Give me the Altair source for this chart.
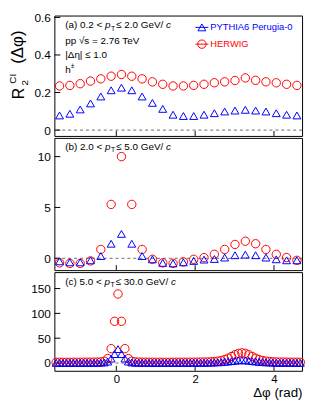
import math
import altair as alt
import pandas as pd

# ---------------- data ----------------
NB_ab = 24
NB_c = 72
x_ab = [-math.pi / 2 + (i + 0.5) * 2 * math.pi / NB_ab for i in range(NB_ab)]
x_c = [-math.pi / 2 + (i + 0.5) * 2 * math.pi / NB_c for i in range(NB_c)]

pythia_a = [0.078, 0.087, 0.110, 0.142, 0.179, 0.212, 0.226, 0.212, 0.179, 0.145, 0.113, 0.082,
            0.075, 0.075, 0.082, 0.090, 0.099, 0.104, 0.108, 0.104, 0.099, 0.090, 0.082, 0.078]
herwig_a = [0.235, 0.238, 0.247, 0.261, 0.273, 0.287, 0.296, 0.287, 0.273, 0.257, 0.244, 0.235,
            0.235, 0.238, 0.244, 0.252, 0.257, 0.264, 0.278, 0.265, 0.257, 0.252, 0.244, 0.238]

pythia_b = [-0.30, -0.40, -0.40, -0.20, 0.22, 1.43, 2.40, 1.43, 0.22, -0.10, -0.45, -0.50,
            -0.40, -0.26, -0.13, -0.07, 0.07, 0.30, 0.36, 0.30, 0.07, -0.10, -0.20, -0.20]
herwig_b = [-0.45, -0.50, -0.50, -0.26, 0.87, 5.30, 10.0, 5.30, 0.87, -0.10, -0.45, -0.50,
            -0.35, -0.10, 0.07, 0.39, 0.87, 1.36, 1.68, 1.43, 0.87, 0.39, 0.07, -0.20]

herwig_c = [1.5, 1.6, 1.5, 1.4, 1.5, 1.6, 1.5, 1.5, 1.6, 1.7, 1.7, 1.8, 2.0,
            2.3, 3.5, 9.0, 29.0, 84.0, 139.0, 84.0, 29.0, 9.0, 3.5, 2.3,
            2.0, 1.8, 1.7, 1.6, 1.6, 1.5, 1.5, 1.5, 1.5, 1.5, 1.5, 1.5, 1.6, 1.6, 1.6, 1.7, 1.7, 1.8, 1.9, 2.0,
            2.2, 2.5, 3.0, 3.8, 5.0, 7.0, 9.8, 13.2, 16.8, 19.5, 20.5, 19.5, 16.8, 13.2, 9.8, 7.0, 5.0, 3.8, 3.0, 2.5, 2.2,
            2.0, 1.9, 1.8, 1.7, 1.6, 1.6, 1.5]
pythia_c = [0.3, 0.4, 0.3, 0.3, 0.4, 0.3, 0.3, 0.4, 0.4, 0.4, 0.5, 0.5, 0.6, 0.8,
            1.2, 3.0, 9.0, 18.0, 28.0, 18.0, 9.0, 3.0, 1.2,
            0.8, 0.6, 0.5, 0.4, 0.4, 0.3, 0.3, 0.3, 0.3, 0.3, 0.3, 0.3, 0.3, 0.3, 0.4, 0.4, 0.4, 0.5, 0.5, 0.6, 0.7, 0.8, 0.9, 1.1, 1.4,
            1.8, 2.4, 3.1, 3.9, 4.7, 5.3, 5.6, 5.3, 4.7, 3.9, 3.1, 2.4, 1.8,
            1.4, 1.1, 0.9, 0.7, 0.6, 0.5, 0.5, 0.4, 0.4, 0.3, 0.3]

yticks_a = [0, 0.2, 0.4, 0.6]
yticks_b = [0, 5, 10]
yticks_c = [0, 50, 100, 150]
xticks = [0, 2, 4]

ydom_a = [-0.031, 0.610]
ydom_b = [-1.165, 11.84]
ydom_c = [-15.6, 183.1]
xdom = [-math.pi / 2, 3 * math.pi / 2]

# ---------------- style ----------------
W = 251
H_A, H_B, H_C = 122, 134, 100
FONT = "Liberation Sans"
RED = "#ff0000"
BLUE = "#0000ff"
ANN = 10

CW = {"(": 333, ")": 333, " ": 278, ".": 278, "<": 584, "\u2264": 549, "/": 278, "G": 778, "e": 556,
      "V": 667, "a": 556, "b": 556, "c": 500, "p": 556, "T": 611}


def tw(s, size):
    return sum(CW.get(ch, 556) for ch in s) * size / 1000.0


def pt_label(tag, lo, hi, x0, y0):
    pieces = []
    s1 = f"({tag}) {lo} < "
    pieces.append((s1, x0, y0, ANN, "normal"))
    x = x0 + tw(s1, ANN)
    pieces.append(("p", x, y0, ANN, "italic"))
    x += tw("p", ANN)
    pieces.append(("T", x + 0.5, y0 + 3.5, 7, "normal"))
    x += tw("T", 7) + 1.5
    s2 = f" \u2264 {hi} GeV/"
    pieces.append((s2, x, y0, ANN, "normal"))
    x += tw(s2, ANN)
    pieces.append(("c", x, y0, ANN, "italic"))
    return pieces


def text_layers(pieces, color="#000", angle=0):
    layers = []
    for (t, x, y, size, style) in pieces:
        layers.append(
            alt.Chart(pd.DataFrame({"t": [t]})).mark_text(
                text=t, align="left" if angle == 0 else "center", baseline="middle",
                font=FONT, fontSize=size, fontStyle=style, color=color, angle=angle
            ).encode(x=alt.value(x), y=alt.value(y))
        )
    return layers


def panel(xs, herwig, pythia, ydom, yticks, H, fmt, texts, xaxis, extra=()):
    df = pd.DataFrame({"x": xs, "herwig": herwig, "pythia": pythia})
    xsc = alt.Scale(domain=xdom, nice=False, zero=False)
    ysc = alt.Scale(domain=ydom, nice=False, zero=False)
    yaxis = alt.Axis(values=yticks, ticks=False, domain=False, grid=False, labelFont=FONT,
                     labelFontSize=12, labelPadding=4, title=None, format=fmt, labelColor="#000")

    def X(f):
        return alt.X(f, type="quantitative", scale=xsc, axis=xaxis)

    def Y(f):
        return alt.Y(f, type="quantitative", scale=ysc, axis=yaxis)

    zero = alt.Chart(pd.DataFrame({"v": [0]})).mark_rule(
        color="#444", strokeDash=[3, 3], strokeWidth=0.8).encode(y=Y("v"))
    ytk = alt.Chart(pd.DataFrame({"v": yticks})).mark_rule(color="#000", strokeWidth=1).encode(
        y=Y("v"), x=alt.value(0), x2=alt.value(6))
    xtk = alt.Chart(pd.DataFrame({"v": xticks})).mark_rule(color="#000", strokeWidth=1).encode(
        x=X("v"), y=alt.value(H), y2=alt.value(H - 5))
    her = alt.Chart(df).mark_point(shape="circle", filled=False, color=RED, size=72,
                                   strokeWidth=1, opacity=1).encode(x=X("x"), y=Y("herwig"))
    pyt = alt.Chart(df).mark_point(shape="triangle-up", filled=False, color=BLUE, size=64,
                                   strokeWidth=1, opacity=1).encode(x=X("x"), y=Y("pythia"))
    layers = [zero, ytk, xtk, her, pyt] + list(texts) + list(extra)
    return alt.layer(*layers).properties(width=W, height=H)


texts_a = text_layers(pt_label("a", "0.2", "2.0", 11, 10))
texts_a += text_layers([("pp \u221As = 2.76 TeV", 11, 26, ANN, "normal"),
                        ("|\u0394\u03b7| \u2264 1.0", 11, 40, ANN, "normal"),
                        ("h", 11, 55, ANN, "normal"),
                        ("\u00b1", 16.6, 51, 7, "normal")])

one = pd.DataFrame({"k": [0]})
LX = 143
legend = [
    alt.Chart(one).mark_rule(color=BLUE, strokeWidth=1).encode(x=alt.value(LX), x2=alt.value(LX + 13), y=alt.value(12)),
    alt.Chart(one).mark_point(shape="triangle-up", filled=False, color=BLUE, size=64, strokeWidth=1, opacity=1)
    .encode(x=alt.value(LX + 6.5), y=alt.value(12)),
    alt.Chart(one).mark_rule(color=RED, strokeWidth=1).encode(x=alt.value(LX), x2=alt.value(LX + 13), y=alt.value(29)),
    alt.Chart(one).mark_point(shape="circle", filled=False, color=RED, size=72, strokeWidth=1, opacity=1)
    .encode(x=alt.value(LX + 6.5), y=alt.value(29)),
]
legend += text_layers([("PYTHIA6 Perugia-0", LX + 15, 12, 9.5, "normal")], color=BLUE)
legend += text_layers([("HERWIG", LX + 15, 29, 9.5, "normal")], color=RED)

ytitle = text_layers([("R", -36, 79, 16, "normal"),
                      ("2", -30, 68, 10, "normal"),
                      ("CI", -41.5, 64, 10, "normal"),
                      ("(\u0394\u03c6)", -37, 32, 17, "normal")], angle=270)

texts_b = text_layers(pt_label("b", "2.0", "5.0", 11, 9))
texts_c = text_layers(pt_label("c", "5.0", "30.0", 11, 10))

xaxis_c = alt.Axis(values=xticks, ticks=False, domain=False, grid=False, labelFont=FONT,
                   labelFontSize=11.5, labelPadding=3, format="d", labelColor="#000",
                   title="\u0394\u03c6 (rad)", titleFont=FONT, titleFontSize=13.5, titleFontWeight="normal",
                   titleAnchor="end", titleColor="#000", titlePadding=1)

pa = panel(x_ab, herwig_a, pythia_a, ydom_a, yticks_a, H_A, "~g", texts_a, None, legend + ytitle)
pb = panel(x_ab, herwig_b, pythia_b, ydom_b, yticks_b, H_B, "d", texts_b, None)
pc = panel(x_c, herwig_c, pythia_c, ydom_c, yticks_c, H_C, "d", texts_c, xaxis_c)

chart = alt.vconcat(pa, pb, pc, spacing=0).properties(
    padding={"left": 0, "top": 0, "right": 0, "bottom": 0}
).configure_view(stroke="#000", strokeWidth=1)

chart.save("out.html", embed_options={"renderer": "svg", "actions": False})
